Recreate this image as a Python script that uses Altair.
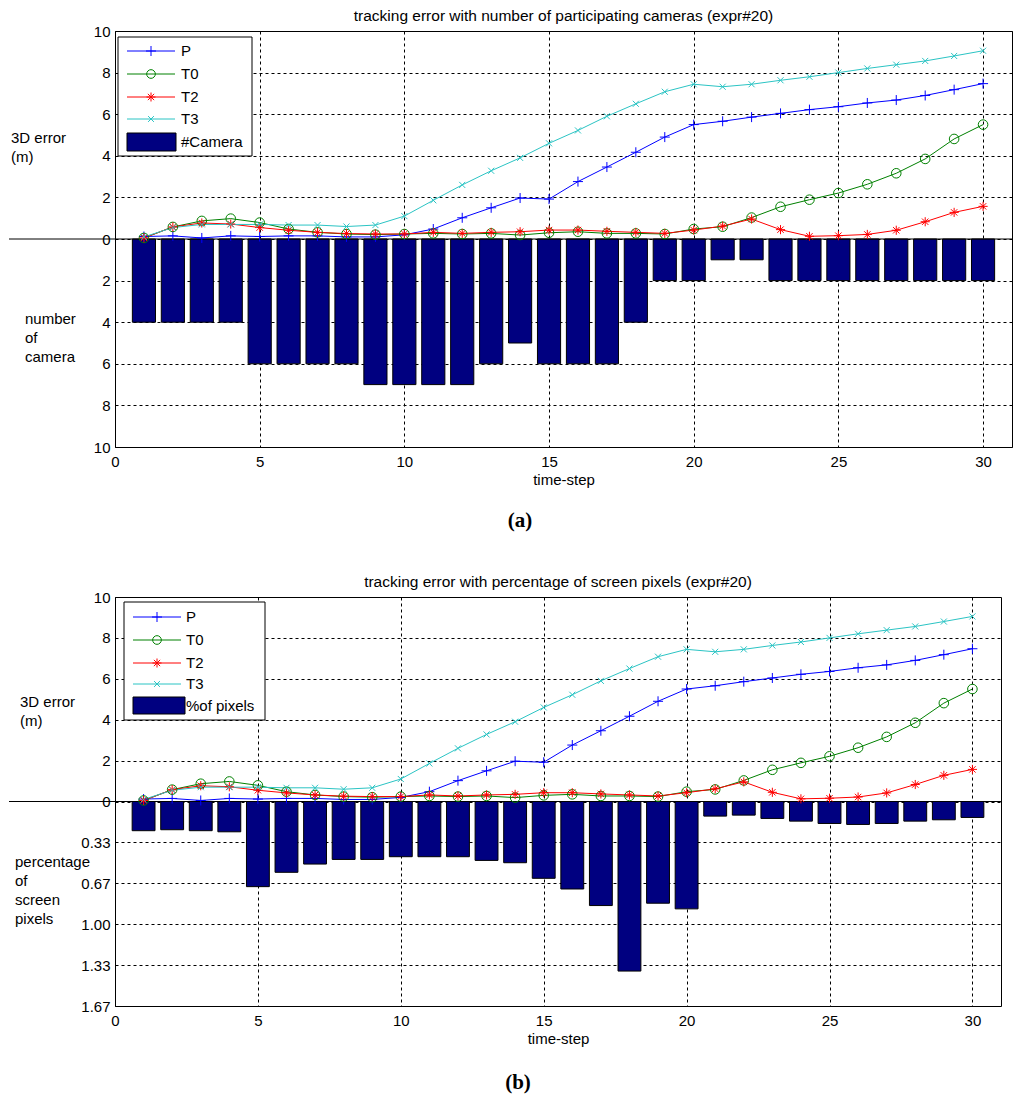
import altair as alt
import pandas as pd

# ---------------- data ----------------
steps = list(range(1, 31))
err_P = [0.12, 0.15, 0.05, 0.15, 0.12, 0.15, 0.15, 0.10, 0.10, 0.20, 0.48, 1.02, 1.50, 1.97, 1.92,
         2.76, 3.46, 4.17, 4.90, 5.50, 5.66, 5.86, 6.04, 6.22, 6.36, 6.54, 6.68, 6.90, 7.18, 7.47]
err_T0 = [0.05, 0.58, 0.87, 0.98, 0.79, 0.48, 0.32, 0.24, 0.21, 0.24, 0.27, 0.24, 0.27, 0.19, 0.30,
          0.35, 0.27, 0.27, 0.24, 0.48, 0.59, 1.03, 1.55, 1.89, 2.21, 2.63, 3.16, 3.85, 4.81, 5.50]
err_T2 = [0.05, 0.58, 0.77, 0.72, 0.55, 0.42, 0.32, 0.26, 0.24, 0.24, 0.32, 0.27, 0.32, 0.35, 0.43,
          0.43, 0.37, 0.32, 0.27, 0.43, 0.62, 0.96, 0.45, 0.13, 0.16, 0.22, 0.42, 0.83, 1.28, 1.57]
err_T3 = [0.10, 0.55, 0.70, 0.70, 0.70, 0.67, 0.67, 0.60, 0.67, 1.10, 1.86, 2.60, 3.28, 3.90, 4.60,
          5.22, 5.90, 6.50, 7.08, 7.44, 7.32, 7.44, 7.63, 7.80, 8.00, 8.20, 8.38, 8.56, 8.80, 9.05]
cameras = [4, 4, 4, 4, 6, 6, 6, 6, 7, 7, 7, 7, 6, 5, 6, 6, 6, 4, 2, 2, 1, 1, 2, 2, 2, 2, 2, 2, 2, 2]
pixels = [0.238, 0.230, 0.238, 0.247, 0.694, 0.577, 0.510, 0.472, 0.472, 0.450, 0.450, 0.450, 0.480,
          0.499, 0.626, 0.713, 0.848, 1.382, 0.829, 0.875, 0.119, 0.111, 0.138, 0.160, 0.179, 0.187,
          0.179, 0.160, 0.149, 0.130]

series_names = ["P", "T0", "T2", "T3"]
series_colors = ["#0000FF", "#008000", "#FF0000", "#2BC4C4"]
x_ticks = [0, 5, 10, 15, 20, 25, 30]
y_ticks = [-10, -8, -6, -4, -2, 0, 2, 4, 6, 8, 10]

PLUS = "M-1,0L1,0M0,-1L0,1"
STAR = "M-1,0L1,0M0,-1L0,1M-0.7,-0.7L0.7,0.7M-0.7,0.7L0.7,-0.7"
XMARK = "M-0.7,-0.7L0.7,0.7M-0.7,0.7L0.7,-0.7"
series_shapes = [PLUS, "circle", STAR, XMARK]
series_sizes = [100, 75, 81, 70]

FONT = "Liberation Sans"
NAVY = "#000080"

lines_df = pd.DataFrame({
    "t": steps * 4,
    "err": err_P + err_T0 + err_T2 + err_T3,
    "series": sum([[s] * 30 for s in series_names], []),
})

color_scale = alt.Scale(domain=series_names, range=series_colors)
shape_scale = alt.Scale(domain=series_names, range=series_shapes)
size_scale = alt.Scale(domain=series_names, range=series_sizes)


def one():
    return alt.Chart(pd.DataFrame({"k": [0]}))


def panel(width, height, title, bar_vals, factor, label_expr, bar_label,
          leg, left_title, left_title_xy, bar_title, bar_title_xy, tag, tag_xy):
    xs = alt.Scale(domain=[0, 31], nice=False, zero=False)
    ys = alt.Scale(domain=[-10, 10], nice=False)
    xaxis = alt.Axis(values=x_ticks, title="time-step", grid=True, gridDash=[3, 3],
                     gridColor="black", gridOpacity=1, ticks=False, domain=False,
                     labelFont=FONT, labelFontSize=15, labelColor="black", labelPadding=7,
                     titleFont=FONT, titleFontSize=15, titleFontWeight="normal",
                     titleColor="black", titlePadding=3, labelFlush=False)
    yaxis = alt.Axis(values=y_ticks, title="", grid=True, gridDash=[3, 3],
                     gridColor="black", gridOpacity=1, ticks=False, domain=False,
                     labelFont=FONT, labelFontSize=15, labelColor="black", labelPadding=5,
                     labelExpr=label_expr, labelFlush=False)

    bars_df = pd.DataFrame({"t": steps, "val": bar_vals})
    bars = alt.Chart(bars_df).transform_calculate(
        lo="datum.t - 0.4", hi="datum.t + 0.4", neg=f"-datum.val * {factor}", base="0"
    ).mark_rect(fill=NAVY, stroke="black", strokeWidth=1).encode(
        x=alt.X("lo:Q", scale=xs, axis=xaxis),
        x2="hi:Q",
        y=alt.Y("base:Q", scale=ys, axis=yaxis),
        y2="neg:Q",
    )

    zero = one().mark_rule(color="black", strokeWidth=1).encode(
        x=alt.value(-106), x2=alt.value(width), y=alt.datum(0)
    )

    lines = alt.Chart(lines_df).mark_line(strokeWidth=1).encode(
        x=alt.X("t:Q", scale=xs, axis=xaxis),
        y=alt.Y("err:Q", scale=ys, axis=yaxis),
        color=alt.Color("series:N", scale=color_scale, legend=None),
        detail="series:N",
    )
    points = alt.Chart(lines_df).mark_point(filled=False, strokeWidth=1, opacity=1).encode(
        x=alt.X("t:Q", scale=xs, axis=xaxis),
        y=alt.Y("err:Q", scale=ys, axis=yaxis),
        color=alt.Color("series:N", scale=color_scale, legend=None),
        shape=alt.Shape("series:N", scale=shape_scale, legend=None),
        size=alt.Size("series:N", scale=size_scale, legend=None),
    )

    layers = [bars, zero, lines, points]

    # manual legend
    bx0, bx1, by0, by1 = leg["box"]
    layers.append(one().mark_rect(fill="white", stroke="black", strokeWidth=1).encode(
        x=alt.value(bx0), x2=alt.value(bx1), y=alt.value(by0), y2=alt.value(by1)))
    lx0, lx1, mx, tx = leg["line"]
    for i, name in enumerate(series_names):
        yy = leg["rows"][i]
        layers.append(one().mark_rule(color=series_colors[i], strokeWidth=1).encode(
            x=alt.value(lx0), x2=alt.value(lx1), y=alt.value(yy)))
        layers.append(one().mark_point(filled=False, strokeWidth=1, opacity=1,
                                       shape=series_shapes[i], size=series_sizes[i],
                                       color=series_colors[i]).encode(
            x=alt.value(mx), y=alt.value(yy)))
        layers.append(one().mark_text(align="left", baseline="middle", font=FONT,
                                      fontSize=15, color="black").encode(
            x=alt.value(tx), y=alt.value(yy), text=alt.value(name)))
    rx0, rx1, ry0, ry1 = leg["rect"]
    layers.append(one().mark_rect(fill=NAVY, stroke="black", strokeWidth=1).encode(
        x=alt.value(rx0), x2=alt.value(rx1), y=alt.value(ry0), y2=alt.value(ry1)))
    layers.append(one().mark_text(align="left", baseline="middle", font=FONT,
                                  fontSize=15, color="black").encode(
        x=alt.value(leg["rtext"]), y=alt.value((ry0 + ry1) / 2), text=alt.value(bar_label)))

    # left side titles
    layers.append(one().mark_text(align="left", baseline="middle", font=FONT, fontSize=15,
                                  lineHeight=19, color="black").encode(
        x=alt.value(left_title_xy[0]), y=alt.value(left_title_xy[1]),
        text=alt.value(left_title)))
    layers.append(one().mark_text(align="left", baseline="middle", font=FONT, fontSize=15,
                                  lineHeight=19, color="black").encode(
        x=alt.value(bar_title_xy[0]), y=alt.value(bar_title_xy[1]),
        text=alt.value(bar_title)))
    # panel tag
    layers.append(one().mark_text(align="center", baseline="middle", font="Liberation Serif",
                                  fontSize=21, fontWeight="bold", color="black").encode(
        x=alt.value(tag_xy[0]), y=alt.value(tag_xy[1]), text=alt.value(tag)))

    return alt.layer(*layers).properties(
        width=width, height=height,
        title=alt.TitleParams(text=title, font=FONT, fontSize=15.5, fontWeight="normal",
                              color="black", anchor="middle", offset=0),
    )


top = panel(
    897, 416,
    "tracking error with number of participating cameras (expr#20)",
    cameras, 1,
    "format(abs(datum.value), 'd')",
    "#Camera",
    {"box": [3, 137, 6, 125], "line": [12, 60, 36, 66], "rows": [20, 43, 66, 88],
     "rect": [12, 61, 102, 120], "rtext": 66},
    ["3D error", "(m)"], (-104, 107),
    ["number", "of", "camera"], (-90, 288),
    "(a)", (405, 490),
)

bottom = panel(
    886, 409,
    "tracking error with percentage of screen pixels (expr#20)",
    pixels, 6,
    "datum.value < 0 ? format(-datum.value / 6, '.2f') : format(datum.value, 'd')",
    "%of pixels",
    {"box": [9, 150, 5, 123], "line": [18, 66, 42, 71], "rows": [20, 43, 66, 87],
     "rect": [18, 70, 100, 117], "rtext": 71},
    ["3D error", "(m)"], (-95, 105),
    ["percentage", "of", "screen", "pixels"], (-100, 265),
    "(b)", (403, 486),
)

chart = alt.vconcat(top, bottom, spacing=42).properties(
    padding={"left": 0, "top": 0, "right": 0, "bottom": 0},
    background="white",
).configure_view(stroke="black", strokeWidth=1)

chart.save("out.html", embed_options={"renderer": "svg", "actions": False})
